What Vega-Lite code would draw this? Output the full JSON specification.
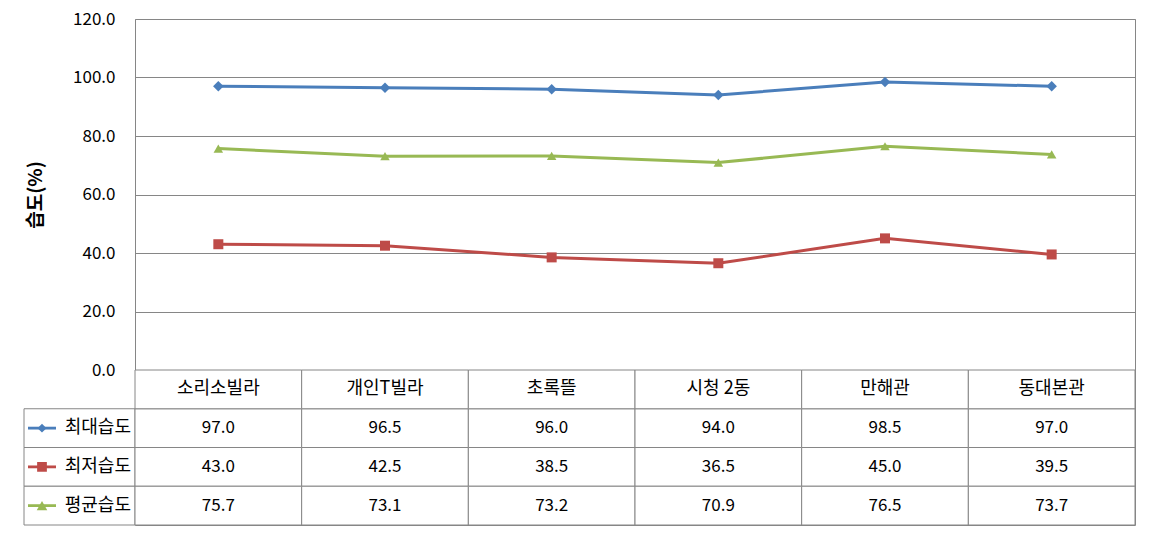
{
  "$schema": "https://vega.github.io/schema/vega-lite/v6.json",
  "padding": {"left": 23, "top": 9, "right": 16, "bottom": 9},
  "background": "white",
  "config": {
    "font": "Noto Sans CJK KR",
    "view": {"stroke": "#868686", "strokeWidth": 1}
  },
  "datasets": {
    "hum": [
      {"site": "소리소빌라", "series": "최대습도", "value": 97.0},
      {"site": "개인T빌라", "series": "최대습도", "value": 96.5},
      {"site": "초록뜰", "series": "최대습도", "value": 96.0},
      {"site": "시청 2동", "series": "최대습도", "value": 94.0},
      {"site": "만해관", "series": "최대습도", "value": 98.5},
      {"site": "동대본관", "series": "최대습도", "value": 97.0},
      {"site": "소리소빌라", "series": "최저습도", "value": 43.0},
      {"site": "개인T빌라", "series": "최저습도", "value": 42.5},
      {"site": "초록뜰", "series": "최저습도", "value": 38.5},
      {"site": "시청 2동", "series": "최저습도", "value": 36.5},
      {"site": "만해관", "series": "최저습도", "value": 45.0},
      {"site": "동대본관", "series": "최저습도", "value": 39.5},
      {"site": "소리소빌라", "series": "평균습도", "value": 75.7},
      {"site": "개인T빌라", "series": "평균습도", "value": 73.1},
      {"site": "초록뜰", "series": "평균습도", "value": 73.2},
      {"site": "시청 2동", "series": "평균습도", "value": 70.9},
      {"site": "만해관", "series": "평균습도", "value": 76.5},
      {"site": "동대본관", "series": "평균습도", "value": 73.7}
    ],
    "sites": [
      {"site": "소리소빌라"}, {"site": "개인T빌라"}, {"site": "초록뜰"},
      {"site": "시청 2동"}, {"site": "만해관"}, {"site": "동대본관"}
    ],
    "series": [
      {"series": "최대습도"}, {"series": "최저습도"}, {"series": "평균습도"}
    ]
  },
  "columns": 2,
  "spacing": 0,
  "bounds": "flush",
  "align": "each",
  "resolve": {
    "scale": {"x": "independent", "y": "independent", "color": "independent", "shape": "independent", "size": "independent"}
  },
  "concat": [
    {
      "width": 111,
      "height": 351,
      "view": {"stroke": null},
      "data": {"values": []},
      "mark": "text",
      "encoding": {}
    },
    {
      "width": 1000,
      "height": 351,
      "data": {"name": "hum"},
      "encoding": {
        "x": {
          "field": "site", "type": "nominal",
          "sort": ["소리소빌라", "개인T빌라", "초록뜰", "시청 2동", "만해관", "동대본관"],
          "axis": null
        },
        "y": {
          "field": "value", "type": "quantitative",
          "scale": {"domain": [0, 120]},
          "axis": {
            "values": [0, 20, 40, 60, 80, 100, 120],
            "format": ".1f",
            "title": "습도(%)",
            "titleFontSize": 19,
            "titleFontWeight": "bold",
            "titleColor": "black",
            "titlePadding": 27,
            "labelFontSize": 17,
            "labelColor": "black",
            "labelPadding": 20,
            "ticks": false,
            "domain": false,
            "gridColor": "#868686",
            "gridOpacity": 1
          }
        },
        "color": {
          "field": "series", "type": "nominal",
          "scale": {"domain": ["최대습도", "최저습도", "평균습도"], "range": ["#4A7EBB", "#BE4B48", "#98B954"]},
          "legend": null
        }
      },
      "layer": [
        {"mark": {"type": "line", "strokeWidth": 3}},
        {
          "mark": {"type": "point", "filled": true, "opacity": 1},
          "encoding": {
            "shape": {
              "field": "series", "type": "nominal",
              "scale": {"domain": ["최대습도", "최저습도", "평균습도"], "range": ["diamond", "square", "triangle-up"]},
              "legend": null
            },
            "size": {
              "field": "series", "type": "nominal",
              "scale": {"domain": ["최대습도", "최저습도", "평균습도"], "range": [110, 90, 130]},
              "legend": null
            }
          }
        }
      ]
    },
    {
      "width": 111,
      "height": 155,
      "view": {"stroke": null},
      "data": {"name": "series"},
      "encoding": {
        "y": {
          "field": "series", "type": "nominal",
          "scale": {"domain": ["_hdr", "최대습도", "최저습도", "평균습도"], "paddingInner": 0, "paddingOuter": 0},
          "axis": null
        }
      },
      "layer": [
        {"mark": {"type": "rect", "fill": "white", "stroke": "#868686", "strokeWidth": 1}},
        {
          "mark": {"type": "point", "filled": true, "opacity": 1, "shape": "M-1,-0.1H1V0.1H-1Z", "size": 784},
          "encoding": {
            "x": {"datum": "sym", "type": "nominal", "scale": {"type": "point", "domain": ["sym", "lbl"], "padding": 0.1236, "align": 0.818}, "axis": null},
            "color": {
              "field": "series", "type": "nominal",
              "scale": {"domain": ["최대습도", "최저습도", "평균습도"], "range": ["#4A7EBB", "#BE4B48", "#98B954"]},
              "legend": null
            }
          }
        },
        {
          "mark": {"type": "point", "filled": true, "opacity": 1},
          "encoding": {
            "x": {"datum": "sym", "type": "nominal"},
            "color": {"field": "series", "type": "nominal", "legend": null},
            "shape": {
              "field": "series", "type": "nominal",
              "scale": {"domain": ["최대습도", "최저습도", "평균습도"], "range": ["diamond", "square", "triangle-up"]},
              "legend": null
            },
            "size": {
              "field": "series", "type": "nominal",
              "scale": {"domain": ["최대습도", "최저습도", "평균습도"], "range": [80, 110, 130]},
              "legend": null
            }
          }
        },
        {
          "mark": {"type": "text", "align": "right", "baseline": "middle", "fontSize": 18, "color": "black"},
          "encoding": {
            "x": {"datum": "lbl", "type": "nominal"},
            "text": {"field": "series"}
          }
        }
      ]
    },
    {
      "width": 1000,
      "height": 155,
      "encoding": {
        "x": {
          "field": "site", "type": "nominal",
          "sort": ["소리소빌라", "개인T빌라", "초록뜰", "시청 2동", "만해관", "동대본관"],
          "scale": {"paddingInner": 0, "paddingOuter": 0},
          "axis": null
        }
      },
      "layer": [
        {
          "data": {"name": "hum"},
          "mark": {"type": "rect", "fill": "white", "stroke": "#868686", "strokeWidth": 1},
          "encoding": {
            "y": {
              "field": "series", "type": "nominal",
              "scale": {"domain": ["_hdr", "최대습도", "최저습도", "평균습도"], "paddingInner": 0, "paddingOuter": 0},
              "axis": null
            }
          }
        },
        {
          "data": {"name": "sites"},
          "mark": {"type": "rect", "fill": "white", "stroke": "#868686", "strokeWidth": 1},
          "encoding": {"y": {"datum": "_hdr", "type": "nominal"}}
        },
        {
          "data": {"name": "hum"},
          "mark": {"type": "text", "baseline": "middle", "fontSize": 17, "color": "black"},
          "encoding": {
            "y": {"field": "series", "type": "nominal"},
            "text": {"field": "value", "type": "quantitative", "format": ".1f"}
          }
        },
        {
          "data": {"name": "sites"},
          "mark": {"type": "text", "baseline": "middle", "fontSize": 18, "color": "black"},
          "encoding": {
            "y": {"datum": "_hdr", "type": "nominal"},
            "text": {"field": "site"}
          }
        }
      ]
    }
  ]
}
